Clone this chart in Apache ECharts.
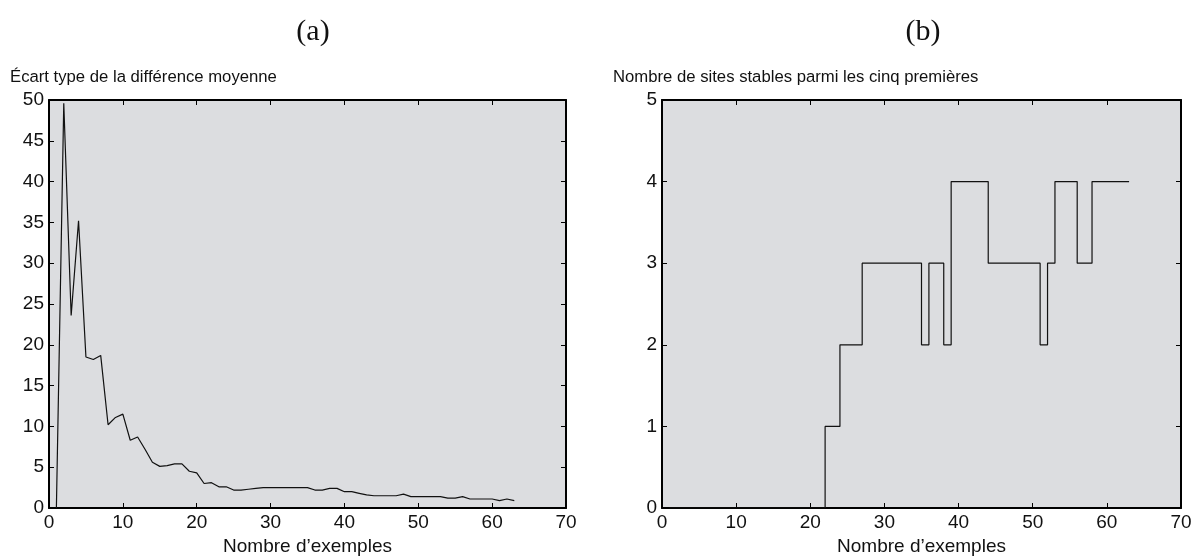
<!DOCTYPE html>
<html>
<head>
<meta charset="utf-8">
<script src="https://cdn.jsdelivr.net/npm/echarts@6/dist/echarts.min.js"></script>
<style>
html,body{margin:0;padding:0;background:#fff;}
#c{width:1202px;height:556px;}
</style>
</head>
<body>
<div id="c"></div>
<script>
// ---- data ----
const examples = [1,2,3,4,5,6,7,8,9,10,11,12,13,14,15,16,17,18,19,20,21,22,23,24,25,26,27,28,29,30,31,32,33,34,35,36,37,38,39,40,41,42,43,44,45,46,47,48,49,50,51,52,53,54,55,56,57,58,59,60,61,62,63];
const stdDiff = [0,49.6,23.6,35.2,18.5,18.2,18.7,10.2,11.1,11.5,8.3,8.7,7.2,5.6,5.1,5.2,5.4,5.4,4.5,4.3,3.0,3.1,2.6,2.6,2.2,2.2,2.3,2.4,2.5,2.5,2.5,2.5,2.5,2.5,2.5,2.2,2.2,2.4,2.4,2.0,2.0,1.8,1.6,1.5,1.5,1.5,1.5,1.7,1.4,1.4,1.4,1.4,1.4,1.2,1.2,1.4,1.1,1.1,1.1,1.1,0.9,1.1,0.9];
const stableSites = [0,0,0,0,0,0,0,0,0,0,0,0,0,0,0,0,0,0,0,0,0,1,1,2,2,2,3,3,3,3,3,3,3,3,2,3,3,2,4,4,4,4,4,3,3,3,3,3,3,3,2,3,4,4,4,3,3,4,4,4,4,4,4];
const xTicks = [0,10,20,30,40,50,60,70];
const yTicksA = [0,5,10,15,20,25,30,35,40,45,50];
const yTicksB = [0,1,2,3,4,5];
const panelTitles = ['(a)','(b)'];
const yNames = ['Écart type de la différence moyenne','Nombre de sites stables parmi les cinq premières'];
const xName = 'Nombre d’exemples';

const chart = echarts.init(document.getElementById('c'), null, {renderer:'canvas'});
const FONT = 'Liberation Sans, Arial, sans-serif';
const grids = [
  {left:49, top:100, width:517, height:408},
  {left:662, top:100, width:519, height:408}
];
const tickCommon = {show:true, inside:true, length:5, lineStyle:{color:'#000', width:1}};
function xAxes(gi){
  return [
    {type:'value', gridIndex:gi, position:'bottom', min:xTicks[0], max:xTicks[xTicks.length-1], interval:10,
     axisLine:{show:true, onZero:false, lineStyle:{color:'#000', width:2}},
     axisTick:tickCommon, splitLine:{show:false},
     axisLabel:{show:true, color:'#111', fontFamily:FONT, fontSize:19, margin:5},
     name:xName, nameLocation:'middle', nameGap:28,
     nameTextStyle:{color:'#111', fontFamily:FONT, fontSize:19}},
    {type:'value', gridIndex:gi, position:'top', min:xTicks[0], max:xTicks[xTicks.length-1], interval:10,
     axisLine:{show:true, onZero:false, lineStyle:{color:'#000', width:2}},
     axisTick:tickCommon, splitLine:{show:false}, axisLabel:{show:false}}
  ];
}
function yAxes(gi, ticks){
  const mn = ticks[0], mx = ticks[ticks.length-1], iv = ticks[1]-ticks[0];
  return [
    {type:'value', gridIndex:gi, position:'left', min:mn, max:mx, interval:iv,
     axisLine:{show:true, onZero:false, lineStyle:{color:'#000', width:2}},
     axisTick:tickCommon, splitLine:{show:false},
     axisLabel:{show:true, color:'#111', fontFamily:FONT, fontSize:19, margin:5}},
    {type:'value', gridIndex:gi, position:'right', min:mn, max:mx, interval:iv,
     axisLine:{show:true, onZero:false, lineStyle:{color:'#000', width:2}},
     axisTick:tickCommon, splitLine:{show:false}, axisLabel:{show:false}}
  ];
}

const option = {
  backgroundColor:'#ffffff',
  animation:false,
  title:[
    {text:panelTitles[0], left:308, top:12, textAlign:'center',
     textStyle:{fontFamily:'Liberation Serif, Times New Roman, serif', fontSize:30, fontWeight:'normal', color:'#111'}},
    {text:panelTitles[1], left:918, top:12, textAlign:'center',
     textStyle:{fontFamily:'Liberation Serif, Times New Roman, serif', fontSize:30, fontWeight:'normal', color:'#111'}},
    {text:yNames[0], left:5, top:64,
     textStyle:{fontFamily:FONT, fontSize:16.7, fontWeight:'normal', color:'#111'}},
    {text:yNames[1], left:608, top:64,
     textStyle:{fontFamily:FONT, fontSize:16.7, fontWeight:'normal', color:'#111'}}
  ],
  grid: grids.map(g => Object.assign({show:true, backgroundColor:'#dcdde0', borderWidth:0, containLabel:false, outerBoundsMode:'none'}, g)),
  xAxis: [...xAxes(0), ...xAxes(1)],
  yAxis: [...yAxes(0, yTicksA), ...yAxes(1, yTicksB)],
  series:[
    {type:'line', xAxisIndex:0, yAxisIndex:0, showSymbol:false, symbol:'none',
     lineStyle:{color:'#111', width:1.2},
     data: examples.map((x,i)=>[x, stdDiff[i]])},
    {type:'line', xAxisIndex:2, yAxisIndex:2, showSymbol:false, symbol:'none', step:'end',
     lineStyle:{color:'#111', width:1.2},
     data: examples.map((x,i)=>[x, stableSites[i]])}
  ]
};
chart.setOption(option);
</script>
</body>
</html>
